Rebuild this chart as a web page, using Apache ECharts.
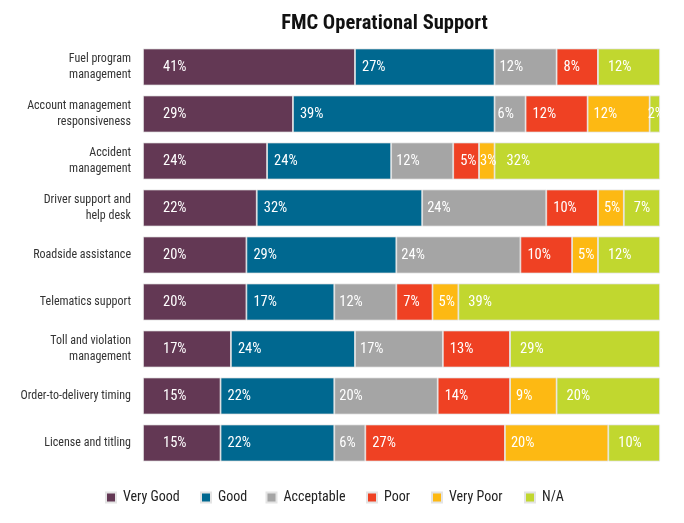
<!DOCTYPE html>
<html>
<head>
<meta charset="utf-8">
<script src="https://cdn.jsdelivr.net/npm/echarts@6/dist/echarts.min.js"></script>
<style>
html,body{margin:0;padding:0;background:#fff;}
#main{width:684px;height:523px;}
</style>
</head>
<body>
<div id="main"></div>
<script>
var categories = [
  'Fuel program\nmanagement',
  'Account management\nresponsiveness',
  'Accident\nmanagement',
  'Driver support and\nhelp desk',
  'Roadside assistance',
  'Telematics support',
  'Toll and violation\nmanagement',
  'Order-to-delivery timing',
  'License and titling'
];
var seriesNames = ['Very Good', 'Good', 'Acceptable', 'Poor', 'Very Poor', 'N/A'];
var veryGood   = [41, 29, 24, 22, 20, 20, 17, 15, 15];
var good       = [27, 39, 24, 32, 29, 17, 24, 22, 22];
var acceptable = [12, 6, 12, 24, 24, 12, 17, 20, 6];
var poor       = [8, 12, 5, 10, 10, 7, 13, 14, 27];
var veryPoor   = [0, 12, 3, 5, 5, 5, 0, 9, 20];
var na         = [12, 2, 32, 7, 12, 39, 29, 20, 10];
var colors = ['#633854', '#006890', '#a5a5a5', '#ef4123', '#fdb913', '#c1d72f'];

// label styling (not data): default inset per series, and a few nudges for narrow segments
var labelInset = [20, 7, 5, 7, 6, 10];
var labelNudge = { '4-2': 1, '5-1': -2, '5-2': 12, '2-1': 3 };

var FONT = 'Roboto';
var STRETCH = 'condensed';
var dataSets = [veryGood, good, acceptable, poor, veryPoor, na];

var series = dataSets.map(function (d, i) {
  return {
    name: seriesNames[i],
    type: 'bar',
    stack: 'total',
    barWidth: 37,
    data: d.map(function (v, j) {
      var key = i + '-' + j;
      if (labelNudge.hasOwnProperty(key)) {
        return { value: v, label: { distance: labelNudge[key] } };
      }
      return v;
    }),
    itemStyle: { color: colors[i], borderColor: '#e4e4e4', borderWidth: 0.8 },
    label: {
      show: true,
      position: 'insideLeft',
      distance: labelInset[i],
      color: '#ffffff',
      fontFamily: FONT,
      fontStyle: STRETCH,
      fontSize: 14.5,
      formatter: function (p) { return p.value ? p.value + '%' : ''; }
    },
    emphasis: { disabled: true }
  };
});

var legendLefts = [105, 200, 265.5, 366, 431, 524];
var legends = seriesNames.map(function (n, i) {
  return {
    data: [n],
    left: legendLefts[i],
    top: 490,
    icon: 'rect',
    itemWidth: 10,
    itemHeight: 10,
    itemGap: 0,
    padding: 0,
    textStyle: { fontFamily: FONT, fontStyle: STRETCH, fontSize: 14, lineHeight: 15, color: '#222', padding: [0, 0, 0, 2] }
  };
});

var chart = echarts.init(document.getElementById('main'));
chart.setOption({
  animation: false,
  backgroundColor: '#ffffff',
  color: colors,
  title: {
    text: 'FMC Operational Support',
    left: 379.5,
    textAlign: 'center',
    top: 8,
    textStyle: { fontFamily: FONT, fontStyle: STRETCH, fontSize: 20.5, fontWeight: 'bold', color: '#111' }
  },
  legend: legends,
  grid: { left: 143, right: 24, top: 43.5, bottom: 56.5, containLabel: false, outerBoundsMode: 'none' },
  xAxis: {
    type: 'value', min: 0, max: 100,
    show: false
  },
  yAxis: {
    type: 'category',
    inverse: true,
    data: categories,
    axisLine: { show: false },
    axisTick: { show: false },
    axisLabel: { fontFamily: FONT, fontStyle: STRETCH, fontSize: 12, color: '#333', margin: 12, lineHeight: 16 }
  },
  series: series
});
</script>
</body>
</html>
